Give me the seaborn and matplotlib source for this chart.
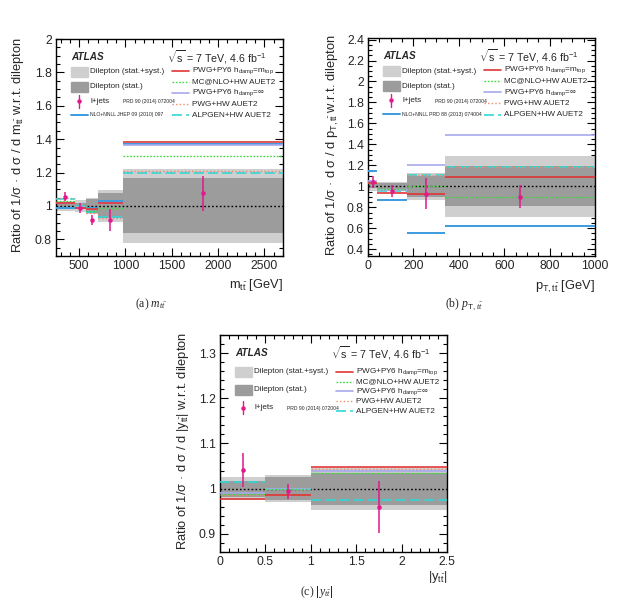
import numpy as np
import matplotlib
matplotlib.use('Agg')
import matplotlib.pyplot as plt
from matplotlib.patches import Rectangle
from matplotlib.ticker import MultipleLocator
import seaborn as sns

# ---- data: m_tt ----
mtt_edges = [250, 450, 570, 700, 970, 2700]
mtt_tot = [0.03, 0.035, 0.05, 0.095, 0.22]
mtt_stat = [0.015, 0.02, 0.04, 0.075, 0.165]
mtt_ljets = [1.055, 0.99, 0.915, 0.915, 1.075]
mtt_ljets_err = [0.028, 0.03, 0.03, 0.065, 0.105]
mtt_pwg_mtop = [1.015, 0.99, 0.98, 1.015, 1.38]
mtt_mcnlo = [1.03, 0.995, 0.97, 0.99, 1.30]
mtt_pwg_inf = [1.02, 0.995, 0.98, 1.02, 1.365]
mtt_pwg_hw = [1.045, 1.0, 0.96, 0.93, 1.21]
mtt_alpgen = [1.042, 1.0, 0.965, 0.935, 1.20]
mtt_nnll = [0.99, 1.0, 0.99, 1.03, 1.37]

# ---- data: pT_tt ----
pt_edges = [0, 40, 170, 340, 1000]
pt_tot = [0.045, 0.045, 0.13, 0.29]
pt_stat = [0.02, 0.03, 0.10, 0.19]
pt_ljets = [1.042, 0.955, 0.93, 0.90]
pt_ljets_err = [0.06, 0.06, 0.15, 0.11]
pt_pwg_mtop = [1.03, 0.935, 0.923, 1.09]
pt_mcnlo = [1.03, 0.97, 1.0, 0.897]
pt_pwg_inf = [1.05, 0.96, 1.206, 1.485]
pt_pwg_hw = [1.04, 0.96, 1.11, 1.18]
pt_alpgen = [1.035, 0.955, 1.106, 1.18]
pt_nnll = [1.145, 0.865, 0.558, 0.623]

# ---- data: |y_tt| ----
y_edges = [0, 0.5, 1.0, 2.5]
y_tot = [0.025, 0.03, 0.046]
y_stat = [0.018, 0.025, 0.035]
y_ljets = [1.0415, 0.994, 0.959]
y_ljets_err = [0.037, 0.016, 0.057]
y_pwg_mtop = [0.978, 0.987, 1.047]
y_mcnlo = [0.989, 1.0, 1.035]
y_pwg_inf = [0.99, 1.0, 1.04]
y_pwg_hw = [0.985, 0.987, 1.044]
y_alpgen = [1.015, 1.0, 0.975]

C_LIGHT = '#cfcfcf'
C_DARK = '#9c9c9c'
C_LJETS = '#e2188c'
C_NNLL = '#3c9be0'
STYLES = {
    'pwg_mtop': dict(color='#e03535', ls='-', lw=1.2),
    'mcnlo': dict(color='#3fd83f', ls=(0, (1.2, 1.2)), lw=1.0),
    'pwg_inf': dict(color='#a9a9ee', ls='-', lw=1.2),
    'pwg_hw': dict(color='#f08a6a', ls=(0, (1.0, 1.6)), lw=1.0),
    'alpgen': dict(color='#2ed8d8', ls=(0, (6, 2.5)), lw=1.2),
}
LABELS = {
    'pwg_mtop': r'PWG+PY6 h$_{\rm damp}$=m$_{\rm top}$',
    'mcnlo': 'MC@NLO+HW AUET2',
    'pwg_inf': r'PWG+PY6 h$_{\rm damp}$=$\infty$',
    'pwg_hw': 'PWG+HW AUET2',
    'alpgen': 'ALPGEN+HW AUET2',
}

sns.set_theme(style='ticks')
plt.rcParams['font.family'] = ['Liberation Sans', 'DejaVu Sans']
plt.rcParams['mathtext.fontset'] = 'custom'
plt.rcParams['mathtext.rm'] = 'Liberation Sans'
plt.rcParams['mathtext.it'] = 'Liberation Sans:italic'
plt.rcParams['mathtext.bf'] = 'Liberation Sans:bold'
plt.rcParams['mathtext.cal'] = 'Liberation Serif:italic'

TICK_FS = 8.8
LABEL_FS = 9.3


def draw_panel(ax, edges, tot, stat, ljets, ljets_err, models, nnll=None):
    edges = np.asarray(edges, dtype=float)
    lo, hi = edges[:-1], edges[1:]
    w = hi - lo
    ax.bar(lo, 2 * np.asarray(tot), bottom=1 - np.asarray(tot), width=w,
           align='edge', color=C_LIGHT, lw=0, zorder=1)
    ax.bar(lo, 2 * np.asarray(stat), bottom=1 - np.asarray(stat), width=w,
           align='edge', color=C_DARK, lw=0, zorder=2)
    ax.axhline(1.0, color='black', ls=(0, (1.2, 1.6)), lw=1.0, zorder=3)
    if nnll is not None:
        ax.hlines(nnll, lo, hi, color=C_NNLL, lw=1.4, zorder=4)
    for key in ['alpgen', 'pwg_hw', 'pwg_inf', 'mcnlo', 'pwg_mtop']:
        st = STYLES[key]
        ax.hlines(models[key], lo, hi, colors=st['color'], linestyles=[st['ls']],
                  lw=st['lw'], zorder=5)
    centers = 0.5 * (lo + hi)
    ax.errorbar(centers, ljets, yerr=ljets_err, fmt='none', ecolor=C_LJETS,
                elinewidth=1.1, zorder=6)
    sns.scatterplot(x=centers, y=ljets, ax=ax, color=C_LJETS, s=9, marker='o',
                    edgecolor=C_LJETS, zorder=7)


def style_axes(ax, xlim, ylim, xmaj, xmin, ymaj, ymin):
    ax.set_xlim(*xlim)
    ax.set_ylim(*ylim)
    ax.xaxis.set_major_locator(MultipleLocator(xmaj))
    ax.xaxis.set_minor_locator(MultipleLocator(xmin))
    ax.yaxis.set_major_locator(MultipleLocator(ymaj))
    ax.yaxis.set_minor_locator(MultipleLocator(ymin))
    ax.tick_params(which='both', direction='in', top=True, right=True,
                   labelsize=TICK_FS, color='black', width=0.8)
    ax.tick_params(which='major', length=6, pad=3)
    ax.tick_params(which='minor', length=3)
    for sp in ax.spines.values():
        sp.set_linewidth(1.0)
        sp.set_color('black')


def draw_legend(ax, cite, nnll_cite=None, rows_left=None, rows_right=None):
    tr = ax.transAxes
    ax.text(0.066, 0.917, 'ATLAS', transform=tr, fontsize=7.2, fontweight='bold',
            fontstyle='italic', va='center', ha='left')
    ax.text(0.49, 0.917, r'$\sqrt{\rm s}$ = 7 TeV, 4.6 fb$^{-1}$', transform=tr,
            fontsize=7.7, va='center', ha='left')
    fs = 5.9
    bx0, bx1, bh = 0.066, 0.141, 0.048
    yl = rows_left
    ax.add_patch(Rectangle((bx0, yl[0] - bh / 2), bx1 - bx0, bh, transform=tr,
                           color=C_LIGHT, clip_on=False, zorder=10))
    ax.text(0.15, yl[0], 'Dilepton (stat.+syst.)', transform=tr, fontsize=fs, va='center')
    ax.add_patch(Rectangle((bx0, yl[1] - bh / 2), bx1 - bx0, bh, transform=tr,
                           color=C_DARK, clip_on=False, zorder=10))
    ax.text(0.15, yl[1], 'Dilepton (stat.)', transform=tr, fontsize=fs, va='center')
    xm = 0.5 * (bx0 + bx1)
    ax.plot([xm, xm], [yl[2] - 0.03, yl[2] + 0.03], transform=tr, color=C_LJETS, lw=1.0)
    ax.plot([xm], [yl[2]], transform=tr, marker='o', ms=2.2, color=C_LJETS)
    ax.text(0.15, yl[2], 'l+jets', transform=tr, fontsize=fs, va='center')
    ax.text(0.295, yl[2] - 0.004, cite, transform=tr, fontsize=3.6, va='center')
    if nnll_cite is not None:
        ax.plot([bx0, bx1], [yl[3], yl[3]], transform=tr, color=C_NNLL, lw=1.4)
        ax.text(0.15, yl[3], 'NLO+NNLL ' + nnll_cite, transform=tr, fontsize=3.7, va='center')
    for key, yy in zip(['pwg_mtop', 'mcnlo', 'pwg_inf', 'pwg_hw', 'alpgen'], rows_right):
        st = STYLES[key]
        ax.plot([0.512, 0.588], [yy, yy], transform=tr, color=st['color'],
                ls=st['ls'], lw=st['lw'])
        ax.text(0.598, yy, LABELS[key], transform=tr, fontsize=fs, va='center')


fig = plt.figure(figsize=(6.18, 6.01), dpi=100)
W, H = 618.0, 601.0


def add_axes(l, t, r, b):
    return fig.add_axes([l / W, 1 - b / H, (r - l) / W, (b - t) / H])


ROWS_L = [0.848, 0.779, 0.714, 0.650]
ROWS_R = [0.853, 0.803, 0.751, 0.700, 0.648]

# (a) m_tt
ax1 = add_axes(56, 39, 283, 256)
draw_panel(ax1, mtt_edges, mtt_tot, mtt_stat, mtt_ljets, mtt_ljets_err,
           dict(pwg_mtop=mtt_pwg_mtop, mcnlo=mtt_mcnlo, pwg_inf=mtt_pwg_inf,
                pwg_hw=mtt_pwg_hw, alpgen=mtt_alpgen), nnll=mtt_nnll)
style_axes(ax1, (250, 2700), (0.7, 2.0), 500, 100, 0.2, 0.05)
ax1.set_yticks([0.8, 1.0, 1.2, 1.4, 1.6, 1.8, 2.0])
ax1.set_yticklabels(['0.8', '1', '1.2', '1.4', '1.6', '1.8', '2'])
draw_legend(ax1, 'PRD 90 (2014) 072004', 'JHEP 09 (2010) 097', ROWS_L, ROWS_R)
ax1.text(-0.167, 0.51, r'Ratio of 1/σ · d σ / d m$_{\rm t\bar{t}}$ w.r.t. dilepton',
         transform=ax1.transAxes, rotation=90, fontsize=LABEL_FS, va='center', ha='center')
ax1.text(1.0, -0.134, r'm$_{\rm t\bar{t}}$ [GeV]', transform=ax1.transAxes,
         fontsize=LABEL_FS, ha='right', va='center')

# (b) pT_tt
ax2 = add_axes(368, 38, 595, 256)
draw_panel(ax2, pt_edges, pt_tot, pt_stat, pt_ljets, pt_ljets_err,
           dict(pwg_mtop=pt_pwg_mtop, mcnlo=pt_mcnlo, pwg_inf=pt_pwg_inf,
                pwg_hw=pt_pwg_hw, alpgen=pt_alpgen), nnll=pt_nnll)
style_axes(ax2, (0, 1000), (0.335, 2.415), 200, 50, 0.2, 0.05)
ax2.set_yticks([0.4, 0.6, 0.8, 1.0, 1.2, 1.4, 1.6, 1.8, 2.0, 2.2, 2.4])
ax2.set_yticklabels(['0.4', '0.6', '0.8', '1', '1.2', '1.4', '1.6', '1.8', '2', '2.2', '2.4'])
draw_legend(ax2, 'PRD 90 (2014) 072004', 'PRD 88 (2013) 074004', ROWS_L, ROWS_R)
ax2.text(-0.155, 0.51, r'Ratio of 1/σ · d σ / d p$_{\rm T,t\bar{t}}$ w.r.t. dilepton',
         transform=ax2.transAxes, rotation=90, fontsize=LABEL_FS, va='center', ha='center')
ax2.text(1.0, -0.14, r'p$_{\rm T,t\bar{t}}$ [GeV]', transform=ax2.transAxes,
         fontsize=LABEL_FS, ha='right', va='center')

# (c) |y_tt|
ax3 = add_axes(220, 335, 447, 552)
draw_panel(ax3, y_edges, y_tot, y_stat, y_ljets, y_ljets_err,
           dict(pwg_mtop=y_pwg_mtop, mcnlo=y_mcnlo, pwg_inf=y_pwg_inf,
                pwg_hw=y_pwg_hw, alpgen=y_alpgen))
style_axes(ax3, (0, 2.5), (0.86, 1.34), 0.5, 0.1, 0.1, 0.02)
ax3.set_yticks([0.9, 1.0, 1.1, 1.2, 1.3])
ax3.set_yticklabels(['0.9', '1', '1.1', '1.2', '1.3'])
ax3.set_xticks([0, 0.5, 1.0, 1.5, 2.0, 2.5])
ax3.set_xticklabels(['0', '0.5', '1', '1.5', '2', '2.5'])
draw_legend(ax3, 'PRD 90 (2014) 072004', None,
            [0.83, 0.747, 0.664], [0.83, 0.785, 0.74, 0.695, 0.648])
ax3.text(-0.163, 0.51, r'Ratio of 1/σ · d σ / d |y$_{\rm t\bar{t}}$| w.r.t. dilepton',
         transform=ax3.transAxes, rotation=90, fontsize=LABEL_FS, va='center', ha='center')
ax3.text(1.0, -0.115, r'|y$_{\rm t\bar{t}}$|', transform=ax3.transAxes,
         fontsize=LABEL_FS, ha='right', va='center')

# captions
fig.text(0.245, 1 - 304 / H, r'(a) $\mathcal{m_{t\bar{t}}}$', fontsize=8.5,
         family='Liberation Serif', ha='center', va='center')
fig.text(0.752, 1 - 304 / H, r'(b) $\mathcal{p}_{\rm T,\mathcal{t\bar{t}}}$', fontsize=8.5,
         family='Liberation Serif', ha='center', va='center')
fig.text(0.513, 1 - 592 / H, r'(c) $|\mathcal{y_{t\bar{t}}}|$', fontsize=8.5,
         family='Liberation Serif', ha='center', va='center')

fig.savefig('out.png', dpi=100)
